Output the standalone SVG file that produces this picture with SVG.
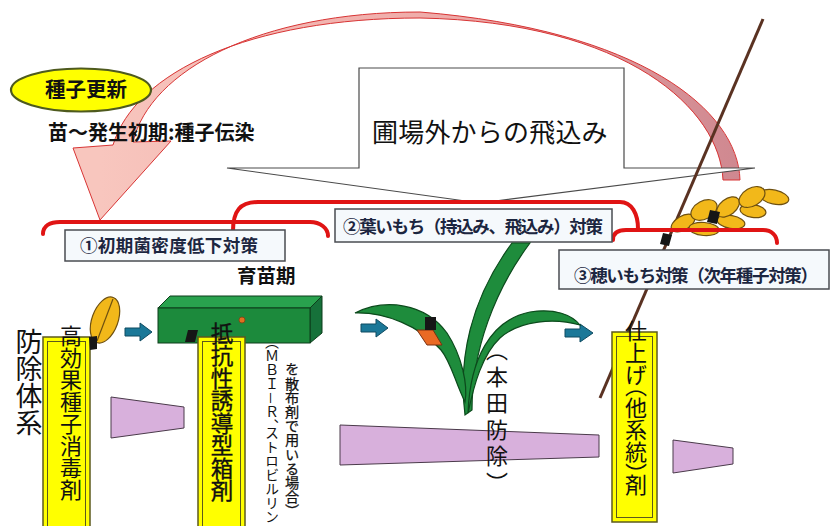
<svg xmlns="http://www.w3.org/2000/svg" width="830" height="526" viewBox="0 0 830 526">
  <defs>
    <linearGradient id="arcFill" gradientUnits="userSpaceOnUse" x1="100" y1="0" x2="740" y2="0">
      <stop offset="0" stop-color="#f8c6be"/>
      <stop offset="0.55" stop-color="#eeaaa8"/>
      <stop offset="1" stop-color="#cf8890"/>
    </linearGradient>
    <style>
      text { font-family: "Noto Sans CJK JP", "Noto Sans", sans-serif; fill: #111; }
      .bracket { fill: none; stroke: #e01414; stroke-width: 4; stroke-linecap: round; }
      .lbl-box { fill: #f5f9fc; stroke: #4a4c52; stroke-width: 1.5; }
      .lbl { font-size: 17.5px; font-weight: bold; fill: #1c2640; }
      .bar { fill: #ffff00; stroke: #5c5a1c; stroke-width: 1.5; }
      .bar-in { fill: none; stroke: #5c5a1c; stroke-width: 1; }
      .vert { writing-mode: vertical-rl; }
      .half { font-feature-settings: "vhal"; }
      .heavy { stroke: #111; stroke-width: 0.35; }
      .trap { fill: #d8b0dc; stroke: #4a3a4a; stroke-width: 1; }
      .flow { fill: #1b7898; stroke: #0f4a60; stroke-width: 1; }
      .leaf { fill: #1e8c3c; stroke: #0c4a1c; stroke-width: 1.2; }
      .grain { fill: #f2b81a; stroke: #6e5010; stroke-width: 1.2; }
      .tag { fill: #161616; }
    </style>
  </defs>

  <rect width="830" height="526" fill="#ffffff"/>

  <!-- seed-borne infection loop: panicle back to seedling stage -->
  <g id="connectors">
    <path d="M740,180 C738,110 640,30 420,12 C260,12 150,70 133,142 L171,141 L100,220 L73,148 L113,145 C135,72 250,18 420,18 C628,22 720,110 723,180 Z"
          fill="url(#arcFill)" stroke="#d83434" stroke-width="1"/>
  </g>

  <!-- callout: airborne inoculum from outside the field -->
  <g id="callout">
    <path d="M359,68 L624,68 L624,168 L755,168 L480,203 L227,168 L359,168 Z" fill="#ffffff" stroke="#4a4a4a" stroke-width="1.2"/>
    <text x="372" y="142" font-size="26" letter-spacing="0.2">圃場外からの飛込み</text>
  </g>

  <!-- seed renewal -->
  <g id="seed-renewal">
    <ellipse cx="81" cy="90" rx="70" ry="21.5" fill="#ffff00" stroke="#4e5a1e" stroke-width="2.2"/>
    <text x="86" y="97" font-size="20.5" font-weight="bold" text-anchor="middle">種子更新</text>
  </g>
  <text x="48" y="140" font-size="20" font-weight="bold">苗～発生初期:種子伝染</text>

  <!-- rice panicle: stalk and grains -->
  <g id="panicle">
    <line x1="763" y1="19" x2="600" y2="398" stroke="#5a3222" stroke-width="3"/>
    <ellipse class="grain" cx="683" cy="223" rx="13" ry="7" transform="rotate(-30 683 223)"/>
    <ellipse class="grain" cx="704" cy="229" rx="15" ry="6.5" transform="rotate(5 704 229)"/>
    <ellipse class="grain" cx="731" cy="222" rx="14" ry="6.5" transform="rotate(10 731 222)"/>
    <ellipse class="grain" cx="704" cy="210" rx="14" ry="9" transform="rotate(-28 704 210)"/>
    <ellipse class="grain" cx="753" cy="211" rx="13" ry="6.5" transform="rotate(8 753 211)"/>
    <ellipse class="grain" cx="728" cy="207" rx="13" ry="8" transform="rotate(-38 728 207)"/>
    <ellipse class="grain" cx="774" cy="197" rx="15" ry="7" transform="rotate(12 774 197)"/>
    <ellipse class="grain" cx="752" cy="197" rx="14" ry="9" transform="rotate(-30 752 197)"/>
    <polygon class="tag" points="710,210 720,212 717,224 707,222"/>
  </g>

  <!-- control periods -->
  <g id="brackets">
    <path class="bracket" d="M43,234 C43,226 50,222 60,222 L310,222 C320,222 328,228 328,236"/>
    <path class="bracket" d="M233,231 C233,211 240,202 258,202 L620,202 C632,202 638,214 638,229"/>
    <path class="bracket" d="M613,240 C613,233 618,230 626,230 L763,230 C772,230 777,236 777,243"/>
  </g>
  <polygon class="tag" points="663,233 672,235 669,246 660,244"/>

  <g id="period-1">
    <rect class="lbl-box" x="65" y="230" width="220" height="31"/>
    <text class="lbl" x="80" y="252" textLength="178" lengthAdjust="spacing">①初期菌密度低下対策</text>
  </g>
  <g id="period-2">
    <rect class="lbl-box" x="335" y="209" width="277" height="33"/>
    <text class="lbl" x="343" y="233" textLength="260" lengthAdjust="spacing">②葉いもち（持込み、飛込み）対策</text>
  </g>
  <g id="period-3">
    <rect class="lbl-box" x="559" y="250" width="270" height="39"/>
    <text class="lbl" x="574" y="282" textLength="244" lengthAdjust="spacing">③穂いもち対策（次年種子対策）</text>
  </g>

  <text x="237" y="283" font-size="19.5" font-weight="bold">育苗期</text>

  <!-- dose trapezoids -->
  <polygon class="trap" points="111,397 184,407 184,428 111,438"/>
  <polygon class="trap" points="340,425 599,435 599,457 340,465"/>
  <polygon class="trap" points="673,440 733,448 733,464 673,473"/>

  <!-- flow arrows -->
  <g id="flow-arrows">
    <polygon class="flow" points="125,328 140,328 140,323 152,332 140,341 140,336 125,336"/>
    <polygon class="flow" points="361,324 376,324 376,319 388,328 376,337 376,332 361,332"/>
    <polygon class="flow" points="565,329 580,329 580,324 593,333 580,342 580,337 565,337"/>
  </g>

  <text class="vert" x="29" y="328" font-size="27">防除体系</text>

  <!-- stage 1: seed disinfection -->
  <g id="seed-treatment">
    <rect class="bar" x="43" y="337" width="47" height="200"/>
    <rect class="bar-in" x="47.5" y="341.5" width="38" height="200"/>
    <ellipse cx="105" cy="320" rx="13" ry="24" transform="rotate(20 105 320)" fill="#f2b81a" stroke="#6e5010" stroke-width="1.2"/>
    <line x1="97" y1="341" x2="113" y2="299" stroke="#6e5010" stroke-width="1.2"/>
    <polygon class="tag" points="89,337 97,336 97,349 90,350"/>
    <text class="vert" x="71" y="325" font-size="22">高効果種子消毒剤</text>
  </g>

  <!-- stage 2: nursery box treatment -->
  <g id="nursery-box">
    <polygon points="158,308 170,296 322,296 310,308" fill="#29a24e" stroke="#0d3d1a" stroke-width="1"/>
    <polygon points="310,308 322,296 322,333 310,343" fill="#16713a" stroke="#0d3d1a" stroke-width="1"/>
    <rect x="158" y="308" width="152" height="35" fill="#1c8a3c" stroke="#0d3d1a" stroke-width="1"/>
    <circle cx="242" cy="320" r="3" fill="#e07020" stroke="#804010" stroke-width="0.8"/>
    <polygon class="tag" points="188,330 198,330 195,342 185,342"/>
    <rect class="bar" x="198" y="337" width="47" height="200"/>
    <rect class="bar-in" x="202.5" y="341.5" width="38" height="200"/>
    <text class="vert heavy" x="222" y="322" font-size="22.5">抵抗性誘導型箱剤</text>
    <text class="vert half" x="272" y="342" font-size="14">（ＭＢＩ－Ｒ、ストロビルリン</text>
    <text class="vert heavy" x="292" y="362" font-size="14.2" style="stroke-width:0.25">を散布剤で用いる場合︶</text>
  </g>

  <!-- stage 3: paddy field -->
  <g id="paddy-plant">
    <path class="leaf" d="M465,415 C458,360 470,300 512,243 L530,243 C495,290 472,350 472,410 Z"/>
    <path class="leaf" d="M355,313 C385,298 425,303 447,333 C462,356 468,385 465,402 C455,382 451,362 441,350 C420,326 385,312 355,313 Z"/>
    <path class="leaf" d="M468,413 C470,360 490,320 530,312 C555,308 572,315 580,325 C555,318 520,320 500,338 C482,355 474,385 468,413 Z"/>
    <polygon points="417,330 433,330 442,345 427,345" fill="#ea6a24" stroke="#7a3010" stroke-width="1"/>
    <polygon class="tag" points="425,317 436,317 436,330 425,330"/>
    <text class="vert half" x="497" y="350" font-size="22" letter-spacing="4.5">（本田防除）</text>
  </g>

  <!-- stage 4: finishing spray -->
  <g id="finishing-spray">
    <rect class="bar" x="612" y="332" width="45" height="190"/>
    <rect class="bar-in" x="616.5" y="336.5" width="36" height="181"/>
    <text class="vert half" x="636" y="320" font-size="22">仕上げ（他系統）剤</text>
  </g>
</svg>
